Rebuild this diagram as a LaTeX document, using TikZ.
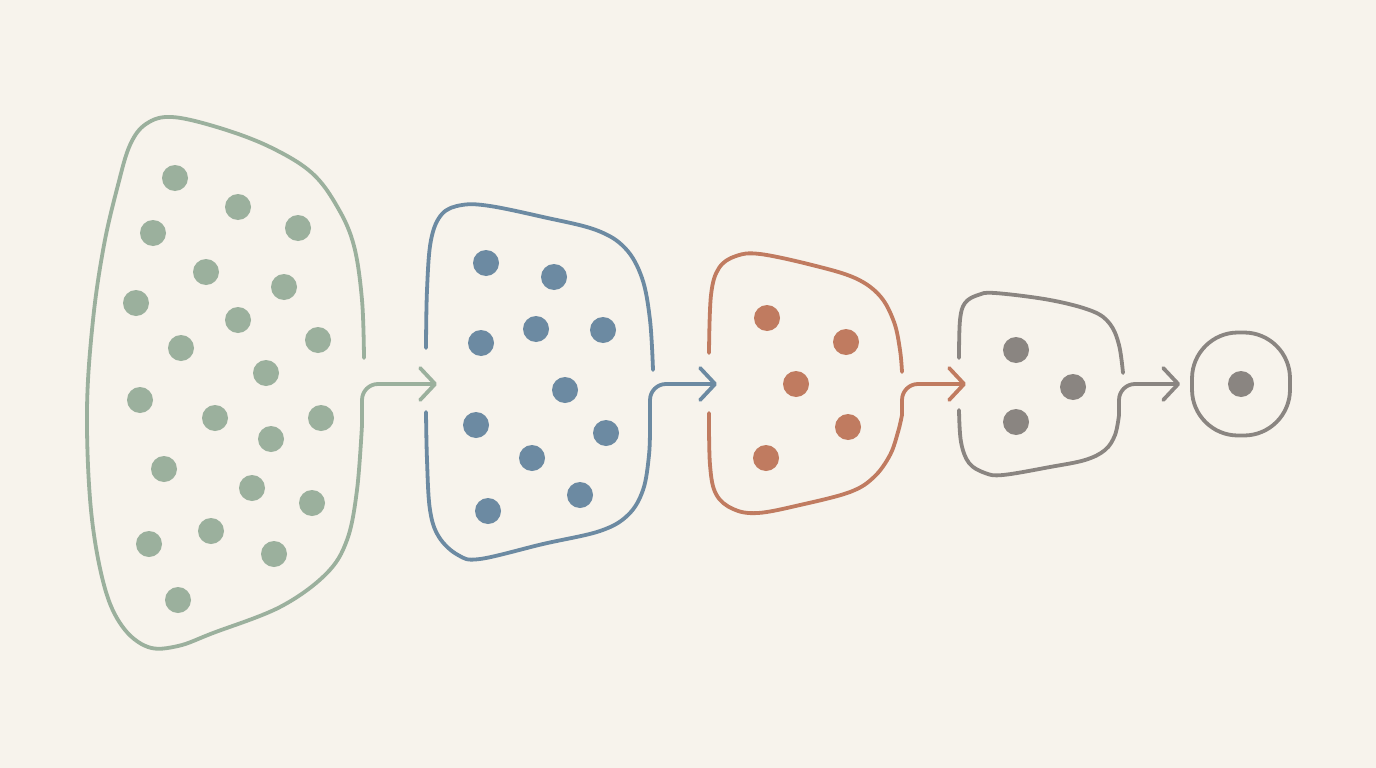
\documentclass[tikz,border=0pt]{standalone}
\usetikzlibrary{arrows.meta}
\definecolor{bgc}{HTML}{F7F3EC}
\definecolor{sage}{HTML}{9BB09D}
\definecolor{slate}{HTML}{6C8AA2}
\definecolor{clay}{HTML}{C07B60}
\definecolor{stone}{HTML}{8A8581}
\begin{document}
\begin{tikzpicture}[x=1pt,y=-1pt,
    outline/.style={line width=3.8pt,line cap=round,line join=round},
    conn/.style={outline,rounded corners=16pt,-{Straight Barb[length=15pt,width=32pt,round]}},
    dot/.style={fill=#1}]
  \fill[bgc] (0,0) rectangle (1376,768);

  % green group
  \draw[outline,sage] plot[smooth,tension=0.6] coordinates {(364,358) (362,300) (354,246) (338,208) (312,173) (270,147) (220,128) (172,117) (146,124) (130,145) (118,185) (104,245) (93,320) (87,410) (91,510) (104,585) (122,626) (148,647) (178,646) (213,633) (280,607) (326,574) (347,540) (357,490) (362,425)};
  \foreach \x/\y in {175/178,238/207,298/228,153/233,206/272,284/287,136/303,238/320,318/340,181/348,266/373,140/400,215/418,321/418,271/439,164/469,252/488,312/503,149/544,211/531,274/554,178/600}
    \fill[dot=sage] (\x,\y) circle (13pt);

  % blue group
  \draw[outline,slate] plot[smooth,tension=0.6] coordinates {(426,348) (427,290) (431,240) (442,214) (462,205) (490,206) (543,217) (596,230) (625,248) (642,278) (650,320) (653,370)};
  \draw[outline,slate] plot[smooth,tension=0.6] coordinates {(426,412) (427,460) (430,510) (439,537) (458,555) (480,559) (543,544) (600,531) (628,515) (643,490) (649,455) (650,425)};
  \foreach \x/\y in {486/263,554/277,481/343,536/329,603/330,565/390,476/425,606/433,532/458,580/495,488/511}
    \fill[dot=slate] (\x,\y) circle (13pt);

  % orange group
  \draw[outline,clay] plot[smooth,tension=0.6] coordinates {(709,353) (711,295) (719,268) (736,256) (760,254) (812,265) (855,278) (880,296) (894,322) (900,350) (902,372)};
  \draw[outline,clay] plot[smooth,tension=0.6] coordinates {(709,413) (710,465) (716,494) (733,509) (758,513) (800,505) (850,492) (874,477) (890,455) (898,432) (902,415)};
  \foreach \x/\y in {767/318,846/342,796/384,848/427,766/458}
    \fill[dot=clay] (\x,\y) circle (13pt);

  % gray group
  \draw[outline,stone] plot[smooth,tension=0.6] coordinates {(959,358) (960,320) (965,303) (978,295) (995,293) (1050,300) (1092,311) (1110,324) (1119,345) (1123,373)};
  \draw[outline,stone] plot[smooth,tension=0.6] coordinates {(959,410) (961,442) (969,463) (985,473) (1003,475) (1050,467) (1085,460) (1105,450) (1115,435) (1119,415)};
  \foreach \x/\y in {1016/350,1073/387,1016/422}
    \fill[dot=stone] (\x,\y) circle (13pt);

  \node[outline,stone,draw,rounded corners=46pt,minimum width=98pt,minimum height=103pt] (last) at (1241,384) {};
  \fill[dot=stone] (last.center) circle (13pt);

  \coordinate (gout) at (362,425);
  \coordinate (bin) at (437,384);
  \coordinate (bout) at (650,425);
  \coordinate (cin) at (717,384);
  \coordinate (cout) at (902,415);
  \coordinate (sin) at (966,384);
  \coordinate (sout) at (1119,415);

  \draw[conn,sage] (gout) |- (bin);
  \draw[conn,slate] (bout) |- (cin);
  \draw[conn,clay] (cout) |- (sin);
  \draw[conn,stone,shorten >=10pt] (sout) |- (last.west);
\end{tikzpicture}
\end{document}
